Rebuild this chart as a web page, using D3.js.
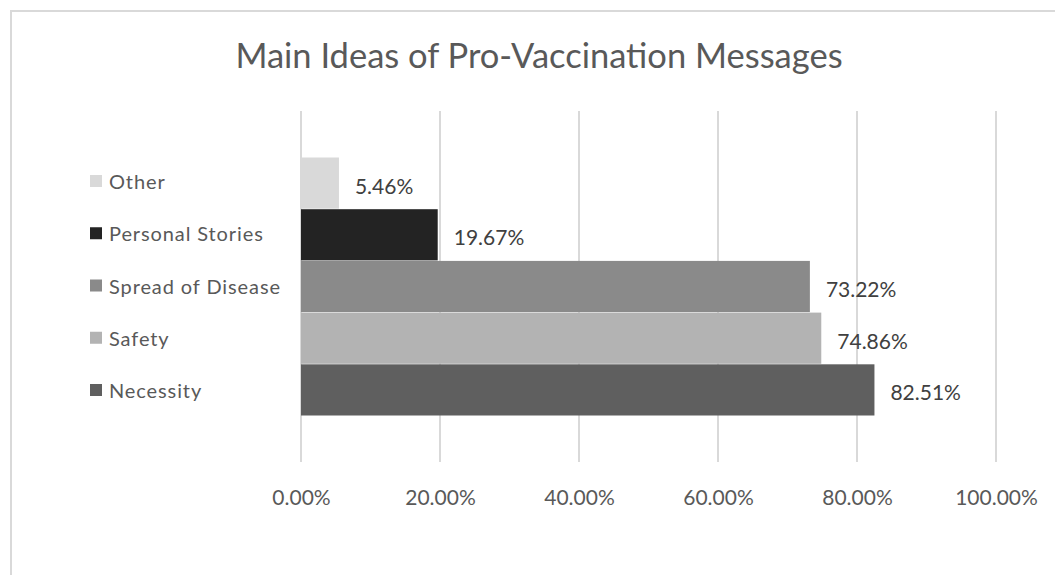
<!DOCTYPE html>
<html>
<head>
<meta charset="utf-8">
<script src="https://cdn.jsdelivr.net/npm/d3@7"></script>
<style>
  html, body { margin: 0; padding: 0; background: #fff; }
  svg { display: block; }
  text { font-family: Lato, "Open Sans", sans-serif; }
</style>
</head>
<body>
<svg id="chart" width="1055" height="575"></svg>
<script>
// Series (top to bottom as drawn) and their shares of messages
const categories = ["Other", "Personal Stories", "Spread of Disease", "Safety", "Necessity"];
const values = [5.46, 19.67, 73.22, 74.86, 82.51];
const colors = ["#d9d9d9", "#232323", "#8a8a8a", "#b3b3b3", "#5f5f5f"];
const tickValues = [0, 20, 40, 60, 80, 100];
const title = "Main Ideas of Pro-Vaccination Messages";

const svg = d3.select("#chart");

// outer chart frame
svg.append("rect")
  .attr("x", 11).attr("y", 11)
  .attr("width", 1200).attr("height", 700)
  .attr("fill", "none")
  .attr("stroke", "#d9d9d9")
  .attr("stroke-width", 2);

const plot = { left: 301, right: 996, top: 111, bottom: 462 };

const x = d3.scaleLinear().domain([0, 100]).range([plot.left, plot.right]);
const y = d3.scaleBand().domain(categories).range([157.5, 415.5]).paddingInner(0.01);

// title
svg.append("text")
  .attr("x", 539).attr("y", 68)
  .attr("text-anchor", "middle")
  .attr("fill", "#595959")
  .attr("font-size", 34.5)
  .text(title);

// vertical gridlines
svg.append("g")
  .selectAll("line")
  .data(tickValues)
  .join("line")
  .attr("x1", d => x(d)).attr("x2", d => x(d))
  .attr("y1", plot.top).attr("y2", plot.bottom)
  .attr("stroke", "#d9d9d9")
  .attr("stroke-width", 2);

// x axis tick labels
const xAxis = d3.axisBottom(x)
  .tickValues(tickValues)
  .tickSize(0)
  .tickPadding(0)
  .tickFormat(d => d3.format(".2f")(d) + "%");
const axisG = svg.append("g")
  .attr("transform", `translate(0,${plot.bottom})`)
  .call(xAxis);
axisG.select(".domain").remove();
axisG.selectAll("text")
  .attr("y", 0)
  .attr("dy", 43)
  .attr("fill", "#595959")
  .attr("font-size", 21)
  .style("font-family", "Lato, 'Open Sans', sans-serif");

// bars
svg.append("g")
  .selectAll("rect")
  .data(categories)
  .join("rect")
  .attr("x", x(0))
  .attr("y", d => y(d))
  .attr("width", (d, i) => x(values[i]) - x(0))
  .attr("height", y.bandwidth())
  .attr("fill", (d, i) => colors[i]);

// value labels
svg.append("g")
  .selectAll("text")
  .data(categories)
  .join("text")
  .attr("x", (d, i) => x(values[i]) + 16)
  .attr("y", d => y(d) + y.bandwidth() / 2 + 2)
  .attr("dominant-baseline", "central")
  .attr("fill", "#404040")
  .attr("font-size", 21)
  .text((d, i) => d3.format(".2f")(values[i]) + "%");

// legend at left
const ly = d3.scalePoint().domain(categories).range([181, 390]);
const legend = svg.append("g")
  .selectAll("g")
  .data(categories)
  .join("g")
  .attr("transform", d => `translate(90,${ly(d)})`);
legend.append("rect")
  .attr("x", 0).attr("y", -6)
  .attr("width", 12).attr("height", 12)
  .attr("fill", (d, i) => colors[i]);
legend.append("text")
  .attr("x", 19).attr("y", 0)
  .attr("dominant-baseline", "central")
  .attr("fill", "#595959")
  .attr("font-size", 20)
  .attr("letter-spacing", 0.9)
  .text(d => d);
</script>
</body>
</html>
